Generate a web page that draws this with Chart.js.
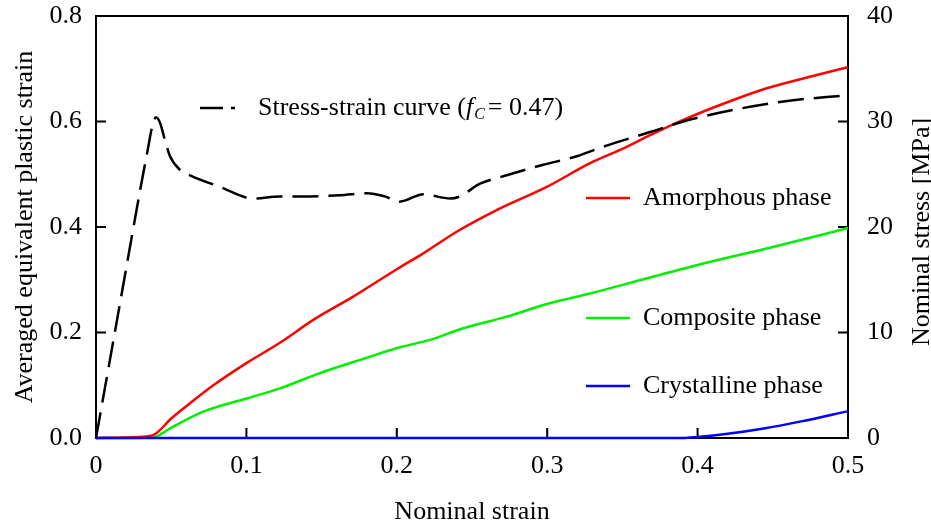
<!DOCTYPE html>
<html><head><meta charset="utf-8">
<script src="https://cdn.jsdelivr.net/npm/chart.js@4/dist/chart.umd.min.js"></script>
<style>html,body{margin:0;padding:0;background:#fff;}#wrap{width:931px;height:529px;position:relative;}</style>
</head><body><div id="wrap"><canvas id="c" width="931" height="529"></canvas></div>
<script>
// ---- data ----
const stressStrain = [0, 0.015, 0.030, 0.0345, 0.0375, 0.0399, 0.0425, 0.0459, 0.0492, 0.0559, 0.0625, 0.0824, 0.1046, 0.1223, 0.1356, 0.1622, 0.1802, 0.192, 0.202, 0.2176, 0.2354, 0.242, 0.2553, 0.2731, 0.2974, 0.3196, 0.335, 0.3684, 0.3905, 0.4238, 0.457, 0.5];
const stressMPa    = [0, 12.0, 24.0, 27.4, 29.6, 30.4, 29.9, 28.2, 26.7, 25.4, 24.9, 23.8, 22.7, 22.9, 22.9, 23.0, 23.2, 22.9, 22.4, 23.1, 22.7, 22.9, 24.1, 24.9, 25.9, 26.7, 27.5, 29.0, 30.0, 31.1, 31.9, 32.5];

const amorphStrain = [0, 0.029, 0.039, 0.050, 0.0625, 0.078, 0.100, 0.122, 0.1445, 0.171, 0.200, 0.2176, 0.2398, 0.2664, 0.2997, 0.3285, 0.3484, 0.3684, 0.3905, 0.4193, 0.446, 0.4792, 0.5];
const amorphPEEQ   = [0, 0.002, 0.007, 0.037, 0.066, 0.100, 0.142, 0.180, 0.224, 0.268, 0.320, 0.350, 0.391, 0.432, 0.476, 0.521, 0.546, 0.574, 0.603, 0.636, 0.663, 0.688, 0.703];

const compStrain = [0, 0.038, 0.0404, 0.0492, 0.0713, 0.1002, 0.1223, 0.1489, 0.1755, 0.2021, 0.2221, 0.2442, 0.2731, 0.2997, 0.3285, 0.355, 0.40, 0.45, 0.50];
const compPEEQ   = [0, 0.001, 0.003, 0.018, 0.050, 0.075, 0.094, 0.123, 0.148, 0.172, 0.186, 0.208, 0.230, 0.254, 0.274, 0.294, 0.328, 0.362, 0.398];

const crystStrain = [0, 0.39, 0.40, 0.42, 0.444, 0.468, 0.50];
const crystPEEQ   = [0, 0, 0.002, 0.008, 0.018, 0.031, 0.051];

const xTickValues = [0, 0.1, 0.2, 0.3, 0.4, 0.5];
const xTickLabels = ['0', '0.1', '0.2', '0.3', '0.4', '0.5'];
const leftTickValues = [0, 0.2, 0.4, 0.6, 0.8];
const leftTickLabels = ['0.0', '0.2', '0.4', '0.6', '0.8'];
const rightTickValues = [0, 10, 20, 30, 40];
const rightTickLabels = ['0', '10', '20', '30', '40'];

const xTitle = 'Nominal strain';
const leftTitle = 'Averaged equivalent plastic strain';
const rightTitle = 'Nominal stress [MPa]';
const seriesNames = ['Amorphous phase', 'Composite phase', 'Crystalline phase'];

// ---- helpers ----
const FONT = '"Liberation Serif", "Times New Roman", serif';
const FS = 26;
function pts(xs, ys) { return xs.map((x, i) => ({ x: x, y: ys[i] })); }
function fixedTicks(values) { return function (scale) { scale.ticks = values.map(v => ({ value: v })); }; }
function labelFor(values, labels) { return function (v) { const i = values.findIndex(t => Math.abs(t - v) < 1e-9); return i >= 0 ? labels[i] : ''; }; }
function fitter(dim, size) {
  return function (s) { s[dim] = size; s.paddingTop = 0; s.paddingBottom = 0; s.paddingLeft = 0; s.paddingRight = 0; };
}

const framePlugin = {
  id: 'frame',
  beforeDatasetsDraw(chart) {
    const { ctx, chartArea: a, scales } = chart;
    ctx.save();
    ctx.strokeStyle = '#000';
    ctx.lineWidth = 2;
    ctx.strokeRect(a.left, a.top, a.right - a.left, a.bottom - a.top);
    const TL = 10;
    ctx.beginPath();
    xTickValues.forEach(v => { const p = scales.x.getPixelForValue(v); ctx.moveTo(p, a.bottom); ctx.lineTo(p, a.bottom - TL); });
    leftTickValues.forEach(v => { const p = scales.y.getPixelForValue(v); ctx.moveTo(a.left, p); ctx.lineTo(a.left + TL, p); });
    rightTickValues.forEach(v => { const p = scales.y2.getPixelForValue(v); ctx.moveTo(a.right, p); ctx.lineTo(a.right - TL, p); });
    ctx.stroke();
    ctx.restore();
  },
  afterDatasetsDraw(chart) {
    const { ctx } = chart;
    ctx.save();
    ctx.fillStyle = '#000';
    ctx.textBaseline = 'middle';
    ctx.font = FS + 'px ' + FONT;
    // stress legend
    ctx.strokeStyle = '#000';
    ctx.lineWidth = 2.5;
    ctx.beginPath(); ctx.moveTo(200, 108); ctx.lineTo(223, 108); ctx.moveTo(231, 108); ctx.lineTo(235, 108); ctx.stroke();
    let x = 258, y = 108;
    const t1 = 'Stress-strain curve (';
    ctx.fillText(t1, x, y); x += ctx.measureText(t1).width;
    ctx.font = 'italic ' + FS + 'px ' + FONT;
    ctx.fillText('f', x, y); x += ctx.measureText('f').width + 1;
    ctx.font = 'italic 16px ' + FONT;
    ctx.fillText('C', x, y + 7); x += ctx.measureText('C').width + 3;
    ctx.font = FS + 'px ' + FONT;
    ctx.fillText('= 0.47)', x, y);
    // phase legends
    const cols = ['#ff0000', '#00ee00', '#0000ff'];
    const ys = [198, 318, 386];
    cols.forEach((c, i) => {
      ctx.strokeStyle = c; ctx.lineWidth = 2.5;
      ctx.beginPath(); ctx.moveTo(586, ys[i]); ctx.lineTo(630, ys[i]); ctx.stroke();
      ctx.fillText(seriesNames[i], 643, ys[i]);
    });
    // right axis title, reading bottom to top
    ctx.translate(922, 232);
    ctx.rotate(-Math.PI / 2);
    ctx.textAlign = 'center';
    ctx.fillText(rightTitle, 0, 0);
    ctx.restore();
  }
};

const common = { pointRadius: 0, borderWidth: 2.5, fill: false, cubicInterpolationMode: 'monotone', clip: false };

new Chart(document.getElementById('c'), {
  type: 'line',
  data: {
    datasets: [
      Object.assign({ label: 'Stress-strain curve', data: pts(stressStrain, stressMPa), borderColor: '#000', yAxisID: 'y2', borderDash: [26, 10] }, common),
      Object.assign({ label: seriesNames[2], data: pts(crystStrain, crystPEEQ), borderColor: '#0000ff', yAxisID: 'y' }, common),
      Object.assign({ label: seriesNames[0], data: pts(amorphStrain, amorphPEEQ), borderColor: '#ff0000', yAxisID: 'y' }, common),
      Object.assign({ label: seriesNames[1], data: pts(compStrain, compPEEQ), borderColor: '#00ee00', yAxisID: 'y' }, common)
    ]
  },
  options: {
    responsive: false,
    animation: false,
    devicePixelRatio: 1,
    layout: { padding: { top: 16, left: 0, right: 0, bottom: 0 } },
    plugins: { legend: { display: false }, tooltip: { enabled: false } },
    scales: {
      x: {
        type: 'linear', min: 0, max: 0.5,
        afterBuildTicks: fixedTicks(xTickValues),
        afterFit: fitter('height', 91),
        grid: { display: false, drawTicks: false }, border: { display: false },
        ticks: { padding: 13, color: '#000', font: { family: FONT, size: FS }, callback: labelFor(xTickValues, xTickLabels), maxRotation: 0 },
        title: { display: true, text: xTitle, color: '#000', font: { family: FONT, size: FS }, padding: { top: 0, bottom: 1 } }
      },
      y: {
        type: 'linear', position: 'left', min: 0, max: 0.8,
        afterBuildTicks: fixedTicks(leftTickValues),
        afterFit: fitter('width', 96),
        grid: { display: false, drawTicks: false }, border: { display: false },
        ticks: { padding: 14, color: '#000', font: { family: FONT, size: FS }, callback: labelFor(leftTickValues, leftTickLabels) },
        title: { display: true, text: leftTitle, color: '#000', font: { family: FONT, size: FS }, padding: { top: 10, bottom: 0 } }
      },
      y2: {
        type: 'linear', position: 'right', min: 0, max: 40,
        afterBuildTicks: fixedTicks(rightTickValues),
        afterFit: fitter('width', 83),
        grid: { display: false, drawTicks: false }, border: { display: false },
        ticks: { padding: 19, color: '#000', font: { family: FONT, size: FS }, callback: labelFor(rightTickValues, rightTickLabels) },
        title: { display: false }
      }
    }
  },
  plugins: [framePlugin]
});
</script>
</body></html>
